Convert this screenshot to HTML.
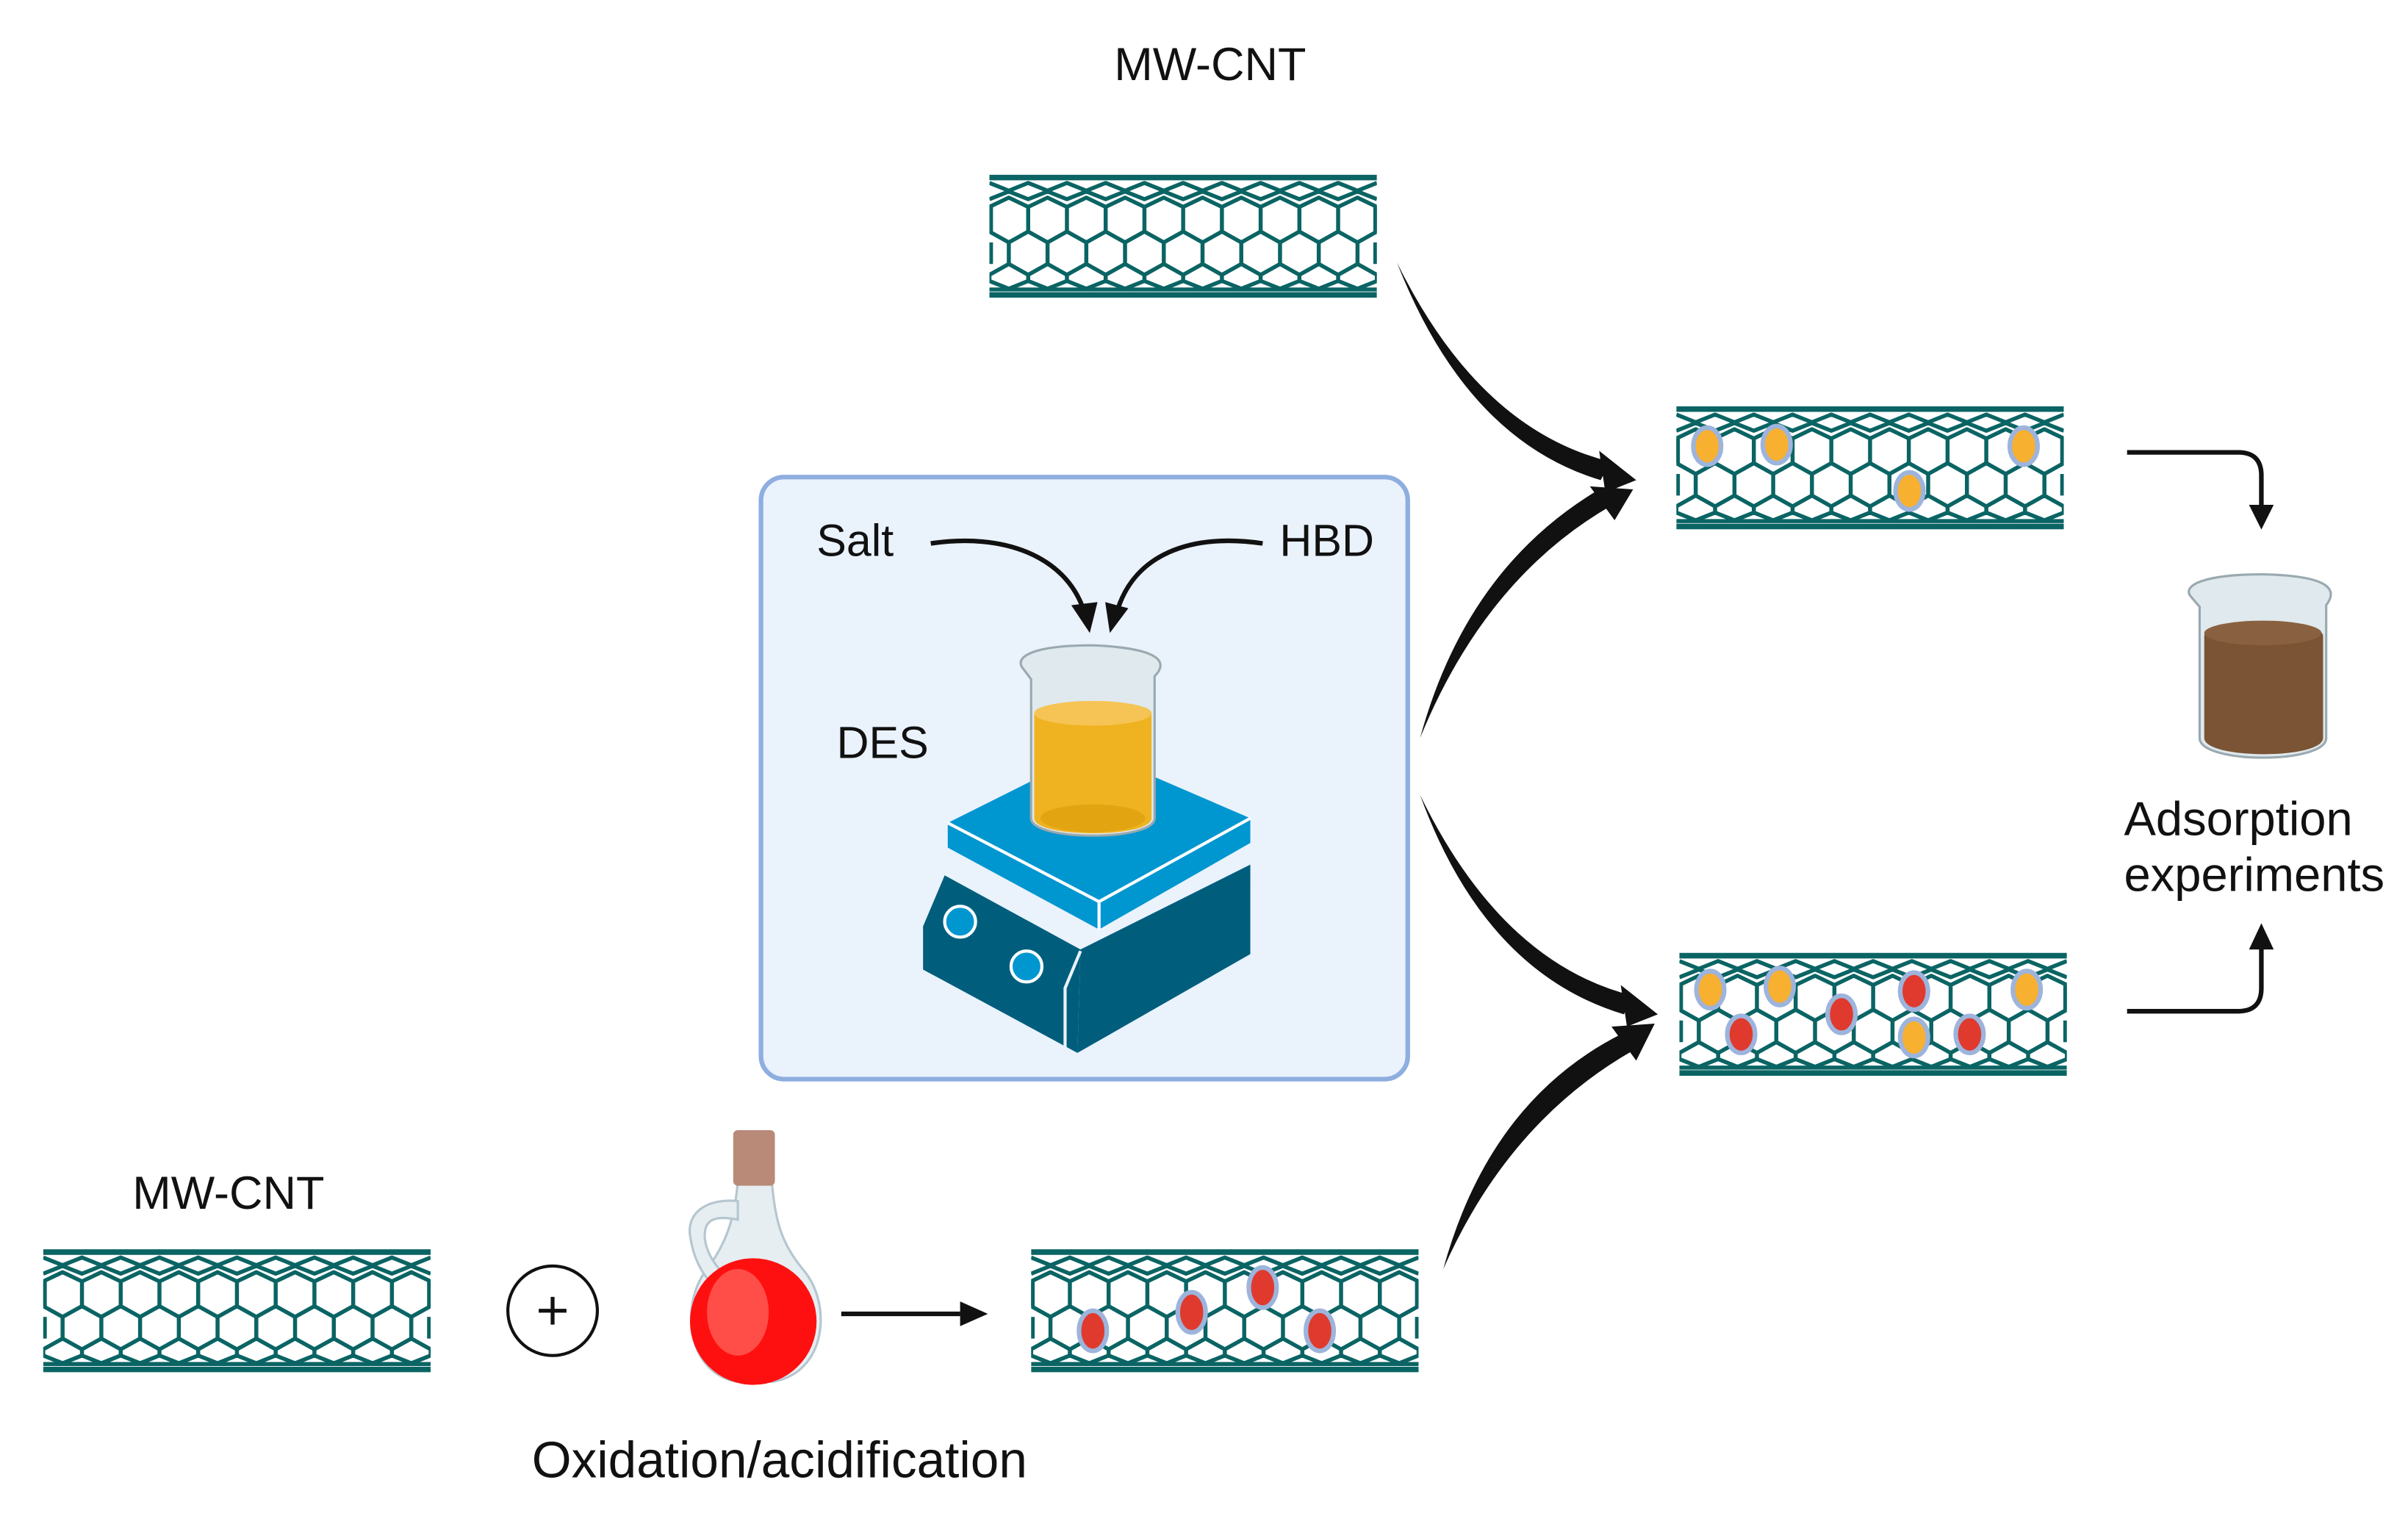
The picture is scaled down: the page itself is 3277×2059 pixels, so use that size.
<!DOCTYPE html>
<html><head><meta charset="utf-8"><style>
html,body{margin:0;padding:0;background:#fff;}
svg{display:block;}
text{font-family:"Liberation Sans",sans-serif;fill:#111;}
</style></head><body>
<svg width="3277" height="2059" viewBox="0 0 1560 980" preserveAspectRatio="none" xmlns="http://www.w3.org/2000/svg">
<defs>
<symbol id="cnt" viewBox="0 0 250 80" preserveAspectRatio="none">
<g fill="none" stroke="#0b6464" stroke-width="2.6" stroke-linejoin="round">
<path d="M0,2H250M0,78H250" stroke-width="3.6"/>
<path d="M0,5.5 l12.5,5 12.5,-5 12.5,5 12.5,-5 12.5,5 12.5,-5 12.5,5 12.5,-5 12.5,5 12.5,-5 12.5,5 12.5,-5 12.5,5 12.5,-5 12.5,5 12.5,-5 12.5,5 12.5,-5 12.5,5 12.5,-5"/>
<path d="M0,16 l12.5,-5 12.5,5 12.5,-5 12.5,5 12.5,-5 12.5,5 12.5,-5 12.5,5 12.5,-5 12.5,5 12.5,-5 12.5,5 12.5,-5 12.5,5 12.5,-5 12.5,5 12.5,-5 12.5,5 12.5,-5 12.5,5"/>
<path d="M0,21 l12.5,-6 12.5,6 12.5,-6 12.5,6 12.5,-6 12.5,6 12.5,-6 12.5,6 12.5,-6 12.5,6 12.5,-6 12.5,6 12.5,-6 12.5,6 12.5,-6 12.5,6 12.5,-6 12.5,6 12.5,-6 12.5,6"/>
<path d="M0,37 l12.5,7 12.5,-7 12.5,7 12.5,-7 12.5,7 12.5,-7 12.5,7 12.5,-7 12.5,7 12.5,-7 12.5,7 12.5,-7 12.5,7 12.5,-7 12.5,7 12.5,-7 12.5,7 12.5,-7 12.5,7 12.5,-7"/>
<path d="M0,65 l12.5,-7 12.5,7 12.5,-7 12.5,7 12.5,-7 12.5,7 12.5,-7 12.5,7 12.5,-7 12.5,7 12.5,-7 12.5,7 12.5,-7 12.5,7 12.5,-7 12.5,7 12.5,-7 12.5,7 12.5,-7 12.5,7"/>
<path d="M0,69 l12.5,5 12.5,-5 12.5,5 12.5,-5 12.5,5 12.5,-5 12.5,5 12.5,-5 12.5,5 12.5,-5 12.5,5 12.5,-5 12.5,5 12.5,-5 12.5,5 12.5,-5 12.5,5 12.5,-5 12.5,5 12.5,-5"/>
<path d="M0,74.5H250"/>
<path d="M0,21V37M25,21V37M50,21V37M75,21V37M100,21V37M125,21V37M150,21V37M175,21V37M200,21V37M225,21V37M250,21V37"/>
<path d="M12.5,44V58M37.5,44V58M62.5,44V58M87.5,44V58M112.5,44V58M137.5,44V58M162.5,44V58M187.5,44V58M212.5,44V58M237.5,44V58"/>
<path d="M0,65V69M25,65V69M50,65V69M75,65V69M100,65V69M125,65V69M150,65V69M175,65V69M200,65V69M225,65V69M250,65V69"/>
<path d="M1,21V37M1,44V58M249,21V37M249,44V58"/>
</g>
</symbol>
</defs>

<text x="784" y="52" font-size="30" text-anchor="middle">MW-CNT</text>
<use href="#cnt" x="641" y="113" width="251" height="80"/>

<use href="#cnt" x="1086" y="263" width="251" height="80"/>
<g stroke="#9db4dc" stroke-width="3" fill="#f8b030">
<ellipse cx="1106" cy="289" rx="9" ry="12"/><ellipse cx="1151" cy="288" rx="9" ry="12"/>
<ellipse cx="1237" cy="318" rx="9" ry="12"/><ellipse cx="1311" cy="289" rx="9" ry="12"/>
</g>
<use href="#cnt" x="1088" y="617" width="251" height="80"/>
<g stroke="#9db4dc" stroke-width="3">
<ellipse cx="1108" cy="641" rx="9" ry="12" fill="#f8b030"/><ellipse cx="1153" cy="639" rx="9" ry="12" fill="#f8b030"/>
<ellipse cx="1240" cy="672" rx="9" ry="12" fill="#f8b030"/><ellipse cx="1313" cy="641" rx="9" ry="12" fill="#f8b030"/>
<ellipse cx="1128" cy="670" rx="9" ry="12" fill="#e03a2e"/><ellipse cx="1193" cy="657" rx="9" ry="12" fill="#e03a2e"/>
<ellipse cx="1240" cy="642" rx="9" ry="12" fill="#e03a2e"/><ellipse cx="1276" cy="670" rx="9" ry="12" fill="#e03a2e"/>
</g>

<text x="148" y="783" font-size="30" text-anchor="middle">MW-CNT</text>
<use href="#cnt" x="28" y="809" width="251" height="80"/>
<circle cx="358" cy="849" r="29" fill="#fff" stroke="#111" stroke-width="2"/>
<path d="M358,840V858M349,849H367" stroke="#111" stroke-width="2.5"/>

<g>
<path d="M478,765 L477,745 L500,745 L500,765 C502,790 506,805 520,822 C540,845 535,890 500,895 L478,895 C445,890 440,845 458,822 C470,806 476,790 478,765Z" fill="#e6eef2" stroke="#b5c6cf" stroke-width="1.5"/>
<path d="M478,778 C460,776 445,784 447,800 C449,815 455,825 460,830 L466,822 C460,815 455,805 457,796 C459,788 468,788 478,790Z" fill="#e6eef2" stroke="#b5c6cf" stroke-width="1.5"/>
<circle cx="488" cy="856" r="41" fill="#ff1010"/>
<ellipse cx="478" cy="850" rx="20" ry="28" fill="#ff5e56" opacity="0.8"/>
<rect x="475" y="732" width="27" height="36" rx="3" fill="#b98a78"/>
</g>
<path d="M545,851H622" stroke="#111" stroke-width="3"/>
<polygon points="640,851 622,843 622,859" fill="#111"/>
<use href="#cnt" x="668" y="809" width="251" height="80"/>
<g stroke="#9db4dc" stroke-width="3" fill="#e03a2e">
<ellipse cx="708" cy="862" rx="9" ry="13"/><ellipse cx="772" cy="850" rx="9" ry="13"/>
<ellipse cx="818" cy="834" rx="9" ry="13"/><ellipse cx="855" cy="862" rx="9" ry="13"/>
</g>
<text x="505" y="957" font-size="33" text-anchor="middle">Oxidation/acidification</text>

<rect x="493" y="309" width="419" height="390" rx="15" fill="#eaf2fc" stroke="#8eaee0" stroke-width="3"/>
<text x="529" y="360" font-size="29">Salt</text>
<text x="829" y="360" font-size="29">HBD</text>
<text x="542" y="491" font-size="29">DES</text>
<path d="M603,352 C650,345 690,360 702,395" fill="none" stroke="#111" stroke-width="3"/>
<polygon points="706,410 694,392 711,390" fill="#111"/>
<path d="M818,352 C770,345 735,360 724,395" fill="none" stroke="#111" stroke-width="3"/>
<polygon points="719,410 716,390 731,394" fill="#111"/>

<polygon points="598,600 612,567 700,615 698,682 598,628" fill="#005e7c"/>
<polygon points="700,615 810,560 810,618 698,682" fill="#005e7c"/>
<polygon points="612,560 700,610 810,555 810,545 700,600 614,550" fill="#eaf2fc"/>
<polygon points="614,533 708,486 810,530 712,584" fill="#0096d0"/>
<polygon points="614,533 712,584 712,602 614,549" fill="#0096d0"/>
<polygon points="712,584 810,530 810,546 712,602" fill="#0096d0"/>
<path d="M614,533 L712,584 L810,530 M712,584 V602" fill="none" stroke="#fff" stroke-width="2"/>
<circle cx="622" cy="597" r="10" fill="#0096d0" stroke="#fff" stroke-width="2"/>
<circle cx="665" cy="626" r="10" fill="#0096d0" stroke="#fff" stroke-width="2"/>
<path d="M700,616 L690,640 V682" stroke="#eaf2fc" stroke-width="2" fill="none"/>

<path d="M662,432 L668,440 V530 C668,545 748,545 748,530 V438 C756,430 755,420 708,418 C670,418 658,425 662,432Z" fill="#dfe9ee" stroke="#9aa9b0" stroke-width="1.5"/>
<path d="M670,462 C670,452 746,452 746,462 V530 C746,543 670,543 670,530Z" fill="#efb321"/>
<ellipse cx="708" cy="462" rx="38" ry="8" fill="#f6c454"/>
<ellipse cx="708" cy="530" rx="34" ry="9" fill="#e2a410"/>

<g fill="#111">
<path d="M905,170 Q958,278 1043,299 L1037,311 Q950,285 905,170Z"/>
<polygon points="1060,311 1036,292 1040,319"/>
<path d="M920,478 Q950,368 1036,317 L1043,328 Q962,375 920,478Z"/>
<polygon points="1058,317 1030,315 1046,337"/>
<path d="M920,515 Q973,624 1058,645 L1052,657 Q962,630 920,515Z"/>
<polygon points="1074,657 1050,638 1054,665"/>
<path d="M935,822 Q965,713 1050,670 L1057,681 Q977,727 935,822Z"/>
<polygon points="1072,663 1044,665 1060,687"/>
</g>

<path d="M1378,293 H1450 Q1465,293 1465,308 V328" fill="none" stroke="#111" stroke-width="3"/>
<polygon points="1465,343 1457,327 1473,327" fill="#111"/>
<path d="M1378,655 H1450 Q1465,655 1465,640 V614" fill="none" stroke="#111" stroke-width="3"/>
<polygon points="1465,598 1457,615 1473,615" fill="#111"/>

<path d="M1419,386 L1425,393 V478 C1425,495 1507,495 1507,478 V392 C1514,383 1512,373 1466,372 C1428,372 1414,379 1419,386Z" fill="#dfe9ee" stroke="#9aa9b0" stroke-width="1.5"/>
<path d="M1428,412 C1428,400 1505,400 1505,412 V478 C1505,492 1428,492 1428,478Z" fill="#7a5434"/>
<ellipse cx="1466" cy="410" rx="38" ry="8" fill="#8a6140"/>
<text x="1376" y="541" font-size="31">Adsorption</text>
<text x="1376" y="577" font-size="31">experiments</text>
</svg>
</body></html>
